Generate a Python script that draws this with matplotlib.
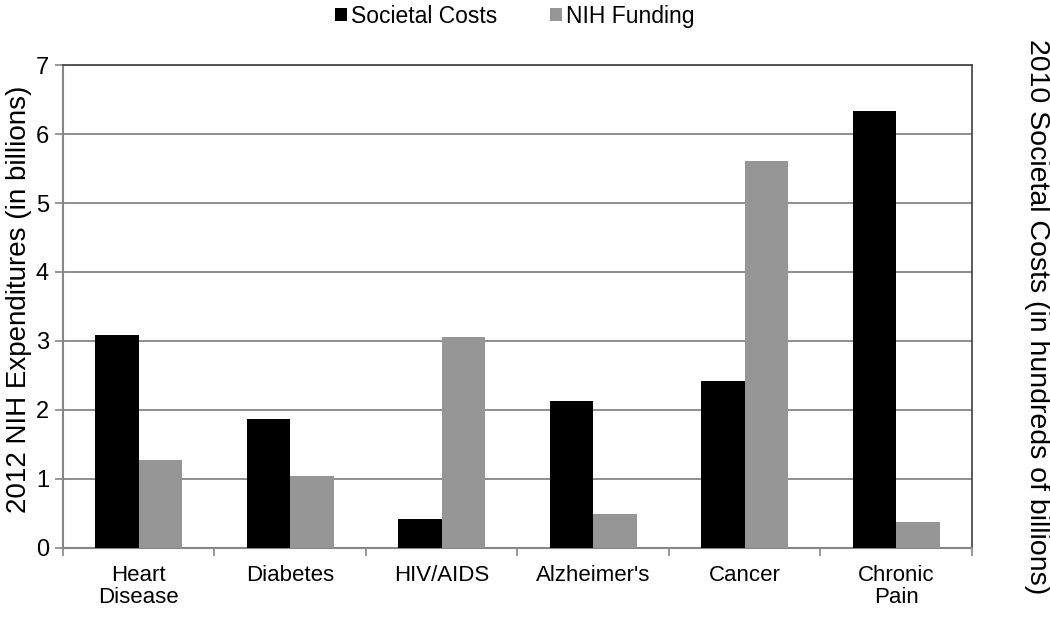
import numpy as np
import matplotlib
matplotlib.use("Agg")
import matplotlib.pyplot as plt

# ---------------------------------------------------------------------------
# Data
# ---------------------------------------------------------------------------
CATEGORIES    = ["Heart\nDisease", "Diabetes", "HIV/AIDS", "Alzheimer's", "Cancer", "Chronic\nPain"]
SOCIETAL_COST = [3.08, 1.87, 0.42, 2.13, 2.42, 6.33]   # hundreds of billions (2010)
NIH_FUNDING   = [1.27, 1.05, 3.06, 0.49, 5.61, 0.38]   # billions (2012)
Y_TICKS       = [0, 1, 2, 3, 4, 5, 6, 7]

BLACK = "#000000"
GRAY  = "#969696"
GRID  = "#868686"

plt.rcParams["font.family"] = ["Liberation Sans", "DejaVu Sans"]

fig = plt.figure(figsize=(10.5, 6.21), dpi=100)
ax = fig.add_axes([0.060, 0.1176, 0.8657, 0.7777])

x = np.arange(len(CATEGORIES))
w = 1 / 3.5  # Excel gap width 150%
ax.bar(x - w / 2, SOCIETAL_COST, width=w, color=BLACK, label="Societal Costs", zorder=3)
ax.bar(x + w / 2, NIH_FUNDING, width=w, color=GRAY, label="NIH Funding", zorder=3)

ax.set_xlim(-0.5, len(CATEGORIES) - 0.5)
ax.set_ylim(0, 7)
ax.set_yticks(Y_TICKS)
ax.tick_params(axis="y", labelsize=17, length=6, width=1.2, color=GRID, pad=4)
ax.grid(axis="y", color=GRID, lw=1.3, zorder=0)

# category labels centred, ticks at category boundaries
ax.set_xticks(x)
ax.set_xticklabels(CATEGORIES, fontsize=16, linespacing=1.1)
ax.tick_params(axis="x", length=0, pad=12)
ax.set_xticks(np.arange(-0.5, len(CATEGORIES) + 0.5), minor=True)
ax.tick_params(axis="x", which="minor", length=6, width=1.2, color=GRID)

for side in ["left", "bottom"]:
    ax.spines[side].set_color(GRID)
    ax.spines[side].set_linewidth(1.5)
for side in ["top", "right"]:
    ax.spines[side].set_color("#404040")
    ax.spines[side].set_linewidth(1.2)

fig.text(0.018, 0.518, "2012 NIH Expenditures (in billions)", rotation=90,
         ha="center", va="center", fontsize=20)
fig.text(0.988, 0.49, "2010 Societal Costs (in hundreds of billions)", rotation=270,
         ha="center", va="center", fontsize=20.5)

fig.legend(loc="center", bbox_to_anchor=(0.49, 0.974), ncol=2, frameon=False,
           fontsize=16.5, handlelength=0.55, handleheight=0.55, handletextpad=0.15,
           columnspacing=2.3)

fig.savefig("out.png", dpi=100)
